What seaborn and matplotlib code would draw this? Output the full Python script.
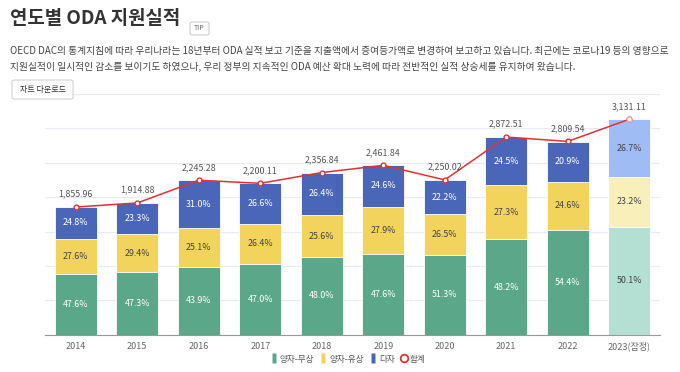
import numpy as np
import pandas as pd
import matplotlib
matplotlib.use("Agg")
import matplotlib.pyplot as plt
import seaborn as sns
from matplotlib.patches import FancyBboxPatch
from matplotlib.lines import Line2D

years = ["2014", "2015", "2016", "2017", "2018", "2019", "2020", "2021", "2022", "2023(잠정)"]
totals = [1855.96, 1914.88, 2245.28, 2200.11, 2356.84, 2461.84, 2250.02, 2872.51, 2809.54, 3131.11]
pct_grant = [47.6, 47.3, 43.9, 47.0, 48.0, 47.6, 51.3, 48.2, 54.4, 50.1]
pct_loan = [27.6, 29.4, 25.1, 26.4, 25.6, 27.9, 26.5, 27.3, 24.6, 23.2]
pct_multi = [24.8, 23.3, 31.0, 26.6, 26.4, 24.6, 22.2, 24.5, 20.9, 26.7]
series_names = ["양자-무상", "양자-유상", "다자", "합계"]

sns.set_theme(style="white")
plt.rcParams['font.family'] = ['Noto Sans CJK KR', 'DejaVu Sans']

df = pd.DataFrame({"year": years, "total": totals,
                   "g": pct_grant, "l": pct_loan, "m": pct_multi})
df["gv"] = df["total"] * df["g"] / 100
df["lv"] = df["total"] * df["l"] / 100
df["mv"] = df["total"] * df["m"] / 100
df["cum_g"] = df["gv"]
df["cum_l"] = df["gv"] + df["lv"]
df["cum_m"] = df["gv"] + df["lv"] + df["mv"]

col_g, col_l, col_m = "#5aa789", "#f2d45c", "#4a66b8"
lt_g, lt_l, lt_m = "#b3e0d2", "#f9efba", "#a0bcf5"
red = "#e03232"
n = len(years)

fig = plt.figure(figsize=(6.8, 3.72), dpi=100)
ax = fig.add_axes([45/680, 1-334.7/372, 615/680, (334.7-93.9)/372])

def pal(c, lc):
    return [c]*(n-1) + [lc]

width = 0.69
for col, c, lc in [("cum_m", col_m, lt_m), ("cum_l", col_l, lt_l), ("cum_g", col_g, lt_g)]:
    sns.barplot(data=df, x="year", y=col, hue="year", palette=pal(c, lc), legend=False,
                width=width, ax=ax, edgecolor="white", linewidth=0.6, saturation=1, zorder=2)

pos = np.arange(n)
sns.lineplot(x=pos, y=df["total"].values, ax=ax, color=red, linewidth=1.1, marker="o",
             markersize=3.5, markerfacecolor="white", markeredgecolor=red, markeredgewidth=1.0, zorder=5)
ax.plot([pos[-1]], [totals[-1]], marker="o", markersize=3.5, markerfacecolor="white",
        markeredgecolor="#f4b0b0", markeredgewidth=1.0, zorder=6, linestyle="none")

for i in range(n):
    last = i == n-1
    tc = "#444444" if last else "white"
    segs = [(df["gv"][i], 0, pct_grant[i]),
            (df["lv"][i], df["gv"][i], pct_loan[i]),
            (df["mv"][i], df["gv"][i]+df["lv"][i], pct_multi[i])]
    for k, (h, b, p) in enumerate(segs):
        c = tc if (k != 1 or last) else "#444444"
        ax.text(i, b + h/2, f"{p:.1f}%", ha="center", va="center", color=c, fontsize=6.4, zorder=7)
    ax.annotate(f"{totals[i]:,.2f}", (i, totals[i]), xytext=(0, 6), textcoords="offset points",
                ha="center", va="bottom", fontsize=6.4, color="#555555", zorder=7)

ax.set_ylim(0, 3500)
ax.set_xlim(-0.5, n-0.5)
ax.set_yticks(np.arange(0, 3501, 500))
ax.set_yticklabels([])
ax.tick_params(axis="y", length=0)
ax.grid(axis="y", color="#e8e9f3", linewidth=0.8, zorder=0)
ax.set_axisbelow(True)
for s in ["top", "right", "left"]:
    ax.spines[s].set_visible(False)
ax.spines["bottom"].set_color("#999999")
ax.spines["bottom"].set_linewidth(0.8)
ax.set_xlabel("")
ax.set_ylabel("")
ax.set_xticks(pos)
ax.set_xticklabels(years, fontsize=6.5, color="#666666")
ax.tick_params(axis="x", length=0, pad=5)
ax.set_xticks(np.arange(-0.5, n, 1), minor=True)
ax.tick_params(axis="x", which="minor", length=4, color="#999999", width=0.8)

# Title and description
fig.text(10/680, 1-18/372, "연도별 ODA 지원실적", fontsize=13.6, fontweight="bold",
         color="#333333", va="center", ha="left")
fig.patches.append(FancyBboxPatch((190/680, 1-35/372), 19/680, 13/372,
                                  boxstyle="round,pad=0,rounding_size=0.004", transform=fig.transFigure,
                                  facecolor="white", edgecolor="#bbbbbb", linewidth=0.6))
fig.text(199.5/680, 1-28.5/372, "TIP", fontsize=5, color="#666666", ha="center", va="center")
fig.text(10/680, 1-51/372,
         "OECD DAC의 통계지침에 따라 우리나라는 18년부터 ODA 실적 보고 기준을 지출액에서 증여등가액로 변경하여 보고하고 있습니다. 최근에는 코로나19 등의 영향으로",
         fontsize=7.0, color="#444444", va="center", ha="left")
fig.text(10/680, 1-67/372,
         "지원실적이 일시적인 감소를 보이기도 하였으나, 우리 정부의 지속적인 ODA 예산 확대 노력에 따라 전반적인 실적 상승세를 유지하여 왔습니다.",
         fontsize=7.0, color="#444444", va="center", ha="left")
fig.patches.append(FancyBboxPatch((12/680, 1-99/372), 61/680, 19/372,
                                  boxstyle="round,pad=0,rounding_size=0.004", transform=fig.transFigure,
                                  facecolor="white", edgecolor="#cccccc", linewidth=0.7, zorder=10))
fig.text(42.5/680, 1-89.5/372, "차트 다운로드", fontsize=5.8, color="#333333", ha="center", va="center", zorder=11)

# Legend
bar_marker = [(-0.18, -0.5), (0.18, -0.5), (0.18, 0.5), (-0.18, 0.5), (-0.18, -0.5)]
handles = [Line2D([], [], linestyle="none", marker=bar_marker, markersize=6.5,
                  markerfacecolor=c, markeredgecolor="none") for c in (col_g, col_l, col_m)]
handles.append(Line2D([], [], linestyle="none", marker="o", markersize=5.5, markerfacecolor="none",
                      markeredgecolor=red, markeredgewidth=1.3))
fig.legend(handles, series_names, loc="center", bbox_to_anchor=(348/680, 1-359/372), ncol=4,
           frameon=False, fontsize=6.2, handlelength=0.7, handleheight=1.1, handletextpad=0.35,
           columnspacing=0.7, labelcolor="#555555")

fig.savefig("out.png", dpi=100)
